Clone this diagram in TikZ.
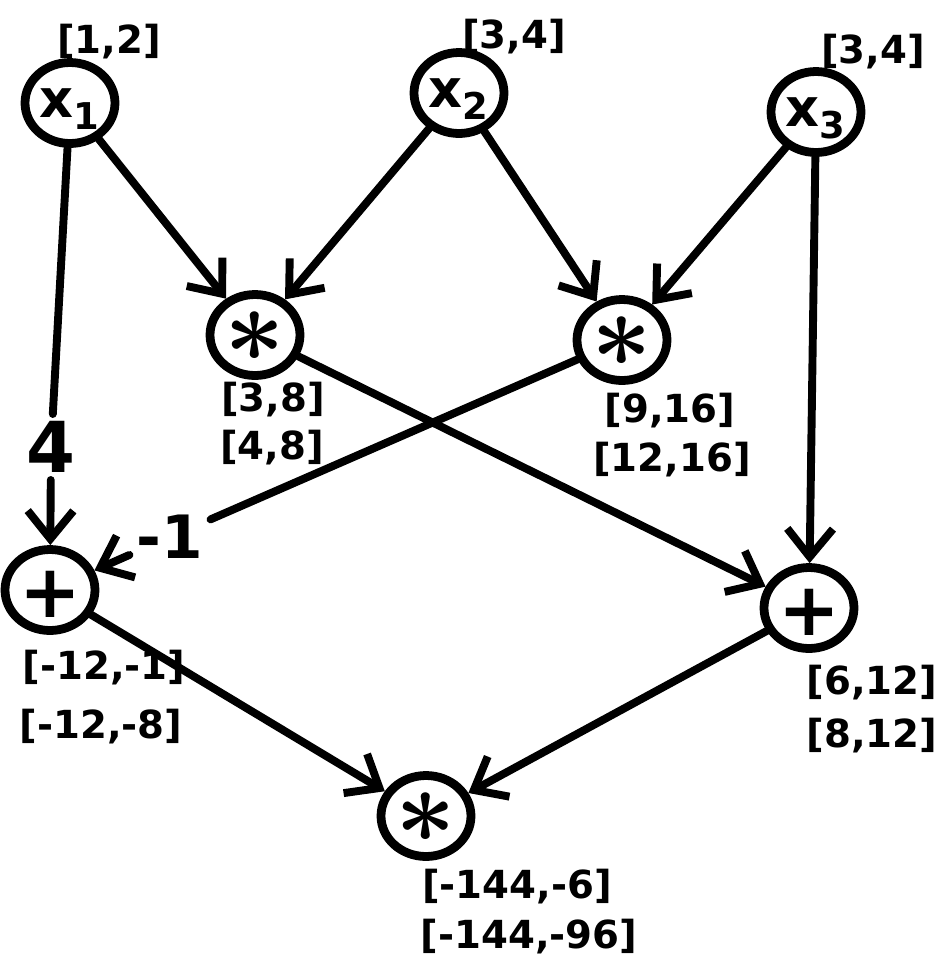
\documentclass[tikz,border=0pt]{standalone}
\usepackage{fontspec}
\usepackage{bm}
\setmainfont{DejaVu Sans}
\usetikzlibrary{arrows.meta,shapes.geometric}
\newcommand{\myx}[1]{\smash{\makebox[0pt]{\fontsize{30}{34}\selectfont\raisebox{-0.27em}{x\textsubscript{#1}}}}}
\newcommand{\myast}{\smash{\makebox[0pt]{\scalebox{6}{\fontsize{10}{12}\selectfont\raisebox{-2.5pt}{$\bm{\ast}$}}}}}
\newcommand{\mysum}{\smash{\makebox[0pt]{\fontsize{42}{44}\selectfont\raisebox{-0.37em}{+}}}}
\begin{document}
\begin{tikzpicture}[x=0.02cm,y=-0.02cm,
  op/.style={ellipse,draw,line width=5pt,minimum width=1.8cm,minimum height=1.62cm,inner sep=0pt,font=\bfseries},
  lab/.style={inner sep=1pt,font=\fontsize{22}{26}\selectfont\bfseries},
  wlab/.style={inner sep=4pt,font=\fontsize{40}{44}\selectfont\bfseries},
  conn/.style={line width=4.5pt,line cap=round},
  arr/.style={conn,-{Straight Barb[length=16pt,width=26pt,line width=4.5pt]}}]
\useasboundingbox (0,0) rectangle (941,965);
% operation nodes
\node[op] (x1) at (70,103) {\myx{1}};
\node[op] (x2) at (459,93) {\myx{2}};
\node[op] (x3) at (816,112) {\myx{3}};
\node[op] (m1) at (255,335) {\myast};
\node[op] (m2) at (622,340) {\myast};
\node[op] (p1) at (50,590) {\mysum};
\node[op] (p2) at (809,608) {\mysum};
\node[op] (m3) at (426,816) {\myast};
% interval labels
\node[lab] (lx1) at (109,42) {[1,2]};
\node[lab] (lx2) at (514,37) {[3,4]};
\node[lab] (lx3) at (873,52) {[3,4]};
\node[lab] (lm1a) at (273,400) {[3,8]};
\node[lab] (lm1b) at (272,448) {[4,8]};
\node[lab] (lm2a) at (670,411) {[9,16]};
\node[lab] (lm2b) at (672,460) {[12,16]};
\node[lab] (lp1a) at (104,668) {[-12,-1]};
\node[lab] (lp1b) at (101,727) {[-12,-8]};
\node[lab] (lp2a) at (872,683) {[6,12]};
\node[lab] (lp2b) at (872,736) {[8,12]};
\node[lab] (lm3a) at (517,887) {[-144,-6]};
\node[lab] (lm3b) at (529,937) {[-144,-96]};
% weight labels
\node[wlab] (w4) at (51,447) {4};
\node[wlab,font=\fontsize{34}{38}\selectfont\bfseries] (w1) at (170,537) {-1};
% connectors
\draw[conn] (x1) -- (w4);
\draw[arr] (w4) -- (p1);
\draw[arr] (x1) -- (m1);
\draw[arr] (x2) -- (m1);
\draw[arr] (x2) -- (m2);
\draw[arr] (x3) -- (m2);
\draw[arr] (x3) -- (p2);
\draw[arr] (m1) -- (p2);
\draw[conn] (m2) -- (w1);
\draw[arr] (w1) -- (p1);
\draw[arr] (p1) -- (m3);
\draw[arr] (p2) -- (m3);
\end{tikzpicture}
\end{document}
